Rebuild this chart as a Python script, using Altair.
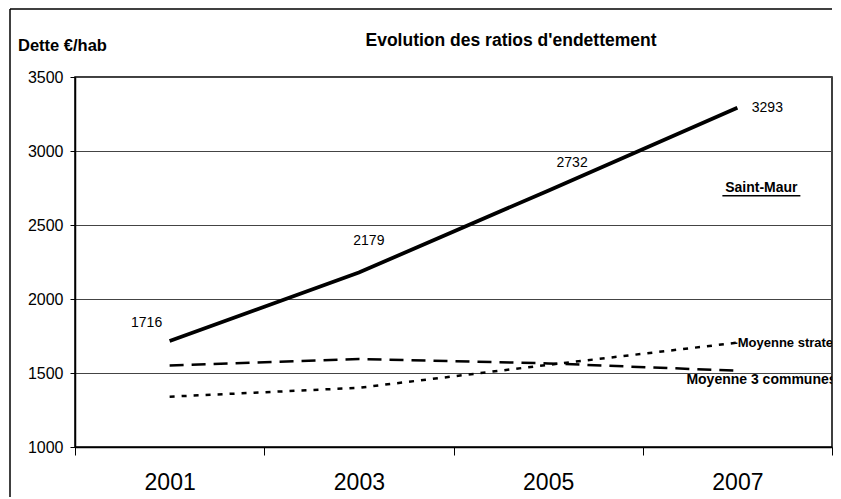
import altair as alt
import pandas as pd

# ---- data ----
years = [2001, 2003, 2005, 2007]
saint_maur = [1716, 2179, 2732, 3293]
moy_strate = [1340, 1400, 1555, 1705]
moy_3_communes = [1550, 1595, 1565, 1515]
series_names = ["Saint-Maur", "Moyenne strate", "Moyenne 3 communes"]
y_ticks = [1000, 1500, 2000, 2500, 3000, 3500]
x_ticks = list(range(2000, 2009))
title_text = "Evolution des ratios d'endettement"
y_title = "Dette €/hab"
end_labels = ["-Moyenne strate", "Moyenne 3 communes"]

rows = []
for name, vals in zip(series_names, [saint_maur, moy_strate, moy_3_communes]):
    for yr, v in zip(years, vals):
        rows.append({"year": yr, "value": v, "series": name})
df = pd.DataFrame(rows)
one = pd.DataFrame({"k": [0]})

FONT = "Liberation Sans"
W, H = 757, 370

x_enc = alt.X(
    "year:Q",
    scale=alt.Scale(domain=[2000, 2008], nice=False, zero=False),
    axis=alt.Axis(
        values=x_ticks, title=None, grid=False, format="d",
        labelExpr="datum.value % 2 == 1 ? datum.label : ''",
        tickSize=8, tickColor="black", tickWidth=1,
        tickOpacity={"condition": {"test": "datum.value % 2 == 1", "value": 0}, "value": 1},
        labelFontSize=23, labelPadding=16, labelFont=FONT, labelColor="black",
        domainColor="black", domainWidth=1.5, labelFlush=False,
    ),
)
y_enc = alt.Y(
    "value:Q",
    scale=alt.Scale(domain=[1000, 3500], nice=False, zero=False),
    axis=alt.Axis(
        values=y_ticks, title=None, grid=True, gridColor="#444444", gridWidth=1,
        format="d", tickSize=5, tickColor="black", labelFontSize=16, labelPadding=7,
        labelFont=FONT, labelColor="black", domainColor="black", domainWidth=1.5,
    ),
)

styles = {
    "Saint-Maur": dict(strokeWidth=3.8),
    "Moyenne strate": dict(strokeWidth=2.5, strokeDash=[5, 7]),
    "Moyenne 3 communes": dict(strokeWidth=2.5, strokeDash=[14, 8]),
}

layers = []
for name in series_names:
    layers.append(
        alt.Chart(df)
        .transform_filter(alt.datum.series == name)
        .mark_line(color="black", strokeCap="butt", **styles[name])
        .encode(x=x_enc, y=y_enc)
    )

# value labels on Saint-Maur
label_offsets = [(-23, -18), (10, -32), (24, -28), (30, 0)]
for yr, (dx, dy) in zip(years, label_offsets):
    layers.append(
        alt.Chart(df)
        .transform_filter((alt.datum.series == "Saint-Maur") & (alt.datum.year == yr))
        .mark_text(font=FONT, fontSize=14, color="black", dx=dx, dy=dy)
        .encode(x="year:Q", y="value:Q", text=alt.Text("value:Q", format="d"))
    )

# series annotations
layers.append(
    alt.Chart(df)
    .transform_filter((alt.datum.series == "Saint-Maur") & (alt.datum.year == 2007))
    .mark_text(font=FONT, fontSize=14, fontWeight="bold", color="black", dx=24, dy=80, text="Saint-Maur")
    .encode(x="year:Q", y="value:Q")
)
layers.append(
    alt.Chart(df)
    .transform_filter((alt.datum.series == "Saint-Maur") & (alt.datum.year == 2007))
    .mark_rule(color="black", strokeWidth=1.5, xOffset=24 - 39, x2Offset=24 + 39, yOffset=88)
    .encode(x="year:Q", x2="year:Q", y="value:Q")
)
layers.append(
    alt.Chart(df)
    .transform_filter((alt.datum.series == "Moyenne strate") & (alt.datum.year == 2007))
    .mark_text(font=FONT, fontSize=13, fontWeight="bold", color="black", align="left", dx=-4, dy=0,
               text=end_labels[0], clip=True)
    .encode(x="year:Q", y="value:Q")
)
layers.append(
    alt.Chart(df)
    .transform_filter((alt.datum.series == "Moyenne 3 communes") & (alt.datum.year == 2007))
    .mark_text(font=FONT, fontSize=14, fontWeight="bold", color="black", align="left", dx=-51, dy=9,
               text=end_labels[1], clip=True)
    .encode(x="year:Q", y="value:Q")
)

# titles
layers.append(
    alt.Chart(one).mark_text(text=title_text, font=FONT, fontSize=17.5, fontWeight="bold", color="black")
    .encode(x=alt.value(436), y=alt.value(-36))
)
layers.append(
    alt.Chart(one).mark_text(text=y_title, font=FONT, fontSize=16.5, fontWeight="bold", color="black", align="left")
    .encode(x=alt.value(-57), y=alt.value(-31))
)

# outer frame
layers.append(
    alt.Chart(one).mark_rule(color="black", strokeWidth=1.5)
    .encode(x=alt.value(-65), y=alt.value(-68), y2=alt.value(H + 60))
)
layers.append(
    alt.Chart(one).mark_rule(color="black", strokeWidth=1.5)
    .encode(x=alt.value(-65), x2=alt.value(W), y=alt.value(-68))
)

chart = (
    alt.layer(*layers)
    .properties(
        width=W, height=H,
        autosize=alt.AutoSizeParams(type="none"),
        padding={"left": 67, "top": 69, "right": 1, "bottom": 50},
        background="white",
    )
    .configure_view(stroke="black", strokeWidth=1.5)
)

chart.save("out.html", embed_options={"renderer": "svg", "actions": False})
